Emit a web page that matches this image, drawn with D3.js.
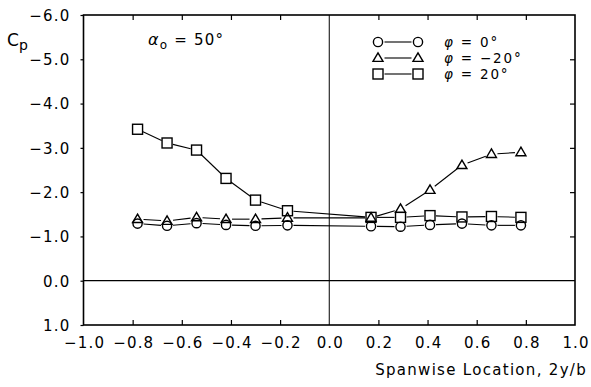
<!DOCTYPE html>
<html>
<head>
<meta charset="utf-8">
<script src="https://cdn.jsdelivr.net/npm/d3@7"></script>
<style>
  body { margin: 0; background: #fff; }
  text { font-family: "DejaVu Sans", sans-serif; fill: #000; }
</style>
</head>
<body>
<svg id="chart" width="591" height="387"></svg>
<script>
// Spanwise stations (2y/b) and pressure coefficient per sideslip angle
const spanStations = [-0.78, -0.66, -0.54, -0.42, -0.30, -0.17, 0.17, 0.29, 0.41, 0.54, 0.66, 0.78];
const cpPhi0      = [-1.29, -1.24, -1.30, -1.26, -1.24, -1.25, -1.23, -1.22, -1.26, -1.29, -1.25, -1.25];
const cpPhiMinus20 = [-1.39, -1.35, -1.43, -1.39, -1.39, -1.42, -1.42, -1.62, -2.05, -2.61, -2.86, -2.90];
const cpPhi20     = [-3.42, -3.11, -2.95, -2.31, -1.82, -1.58, -1.43, -1.43, -1.47, -1.44, -1.45, -1.43];

const seriesNames = ["φ = 0°", "φ = −20°", "φ = 20°"];
const seriesShapes = ["circle", "triangle", "square"];

const xTickValues = [-1.0, -0.8, -0.6, -0.4, -0.2, 0.0, 0.2, 0.4, 0.6, 0.8, 1.0];
const yTickValues = [-6.0, -5.0, -4.0, -3.0, -2.0, -1.0, 0.0, 1.0];

const svg = d3.select("#chart");
const plotLeft = 83.5, plotRight = 575, plotTop = 15, plotBottom = 325;
const labelFont = "15px", labelSpacing = "1.2px";

const x = d3.scaleLinear().domain([-1, 1]).range([plotLeft, plotRight]);
const y = d3.scaleLinear().domain([-6, 1]).range([plotTop, plotBottom]);
const fmt = d3.format(".1f");

// Axes
const gLeft = svg.append("g").attr("transform", `translate(${plotLeft},0)`)
  .call(d3.axisLeft(y).tickValues(yTickValues).tickSize(3).tickPadding(10).tickFormat(fmt));
const gBottom = svg.append("g").attr("transform", `translate(0,${plotBottom})`)
  .call(d3.axisBottom(x).tickValues(xTickValues).tickSize(-5).tickPadding(12).tickFormat(fmt));
const gTop = svg.append("g").attr("transform", `translate(0,${plotTop})`)
  .call(d3.axisTop(x).tickValues(xTickValues.filter(v => v !== 0 && Math.abs(v) !== 1)).tickSize(-5).tickFormat(""));
const gRight = svg.append("g").attr("transform", `translate(${plotRight},0)`)
  .call(d3.axisRight(y).tickValues(yTickValues.filter(v => v > -6 && v < 0)).tickSize(-5).tickFormat(""));
gBottom.selectAll(".tick line").filter(d => d === 0 || Math.abs(d) === 1).remove();

[gLeft, gBottom, gTop, gRight].forEach(g => {
  g.select(".domain").remove();
  g.selectAll(".tick line").attr("stroke", "#000").attr("stroke-width", 1.2);
  g.selectAll(".tick text").style("font-size", labelFont)
    .style("letter-spacing", labelSpacing).attr("fill", "#000");
});
gLeft.selectAll(".tick text").attr("dy", "0.36em");
gBottom.selectAll(".tick text").attr("dx", "0.6px");

// Frame
svg.append("rect")
  .attr("x", plotLeft).attr("y", plotTop)
  .attr("width", plotRight - plotLeft).attr("height", plotBottom - plotTop)
  .attr("fill", "none").attr("stroke", "#000").attr("stroke-width", 1.6);

// Reference lines at Cp = 0 and 2y/b = 0
svg.append("line").attr("x1", plotLeft).attr("x2", plotRight).attr("y1", y(0)).attr("y2", y(0))
  .attr("stroke", "#000").attr("stroke-width", 1.3);
svg.append("line").attr("x1", x(0)).attr("x2", x(0)).attr("y1", plotTop).attr("y2", plotBottom)
  .attr("stroke", "#000").attr("stroke-width", 1);

// Marker shapes
function drawMarker(g, shape, cx, cy) {
  if (shape === "circle") {
    g.append("circle").attr("cx", cx).attr("cy", cy).attr("r", 4.6);
  } else if (shape === "square") {
    g.append("rect").attr("x", cx - 5).attr("y", cy - 5).attr("width", 10).attr("height", 10);
  } else {
    const h = 8.5, w = 10;
    g.append("path").attr("d",
      `M${cx},${cy - h * 0.6}L${cx + w / 2},${cy + h * 0.4}L${cx - w / 2},${cy + h * 0.4}Z`);
  }
}

// Connecting segment shortened so it stops at the marker outlines
function trimmedSegment(g, x1, y1, x2, y2, gap) {
  const dx = x2 - x1, dy = y2 - y1, len = Math.hypot(dx, dy);
  if (len <= 2 * gap) return;
  const ux = dx / len, uy = dy / len;
  g.append("line")
    .attr("x1", x1 + ux * gap).attr("y1", y1 + uy * gap)
    .attr("x2", x2 - ux * gap).attr("y2", y2 - uy * gap);
}

const allSeries = [cpPhi0, cpPhiMinus20, cpPhi20];
allSeries.forEach((vals, si) => {
  const g = svg.append("g").attr("fill", "none").attr("stroke", "#000");
  const lines = g.append("g").attr("stroke-width", 1.1);
  const pts = spanStations.map((s, i) => [x(s), y(vals[i])]);
  for (let i = 0; i < pts.length - 1; i++) {
    trimmedSegment(lines, pts[i][0], pts[i][1], pts[i + 1][0], pts[i + 1][1], 6);
  }
  const marks = g.append("g").attr("stroke-width", 1.4);
  pts.forEach(p => drawMarker(marks, seriesShapes[si], p[0], p[1]));
});

// Legend
const legend = svg.append("g");
seriesNames.forEach((name, i) => {
  const cy = 42 + i * 16;
  const g = legend.append("g").attr("fill", "none").attr("stroke", "#000");
  trimmedSegment(g.append("g").attr("stroke-width", 1.1), 378, cy, 418, cy, 6.5);
  const m = g.append("g").attr("stroke-width", 1.4);
  drawMarker(m, seriesShapes[i], 378, cy);
  drawMarker(m, seriesShapes[i], 418, cy);
  const t = legend.append("text").attr("x", 444).attr("y", cy).attr("dy", "0.36em")
    .style("font-size", "13.5px").style("letter-spacing", "1.8px");
  t.append("tspan").style("font-style", "italic").text(name.slice(0, 1));
  t.append("tspan").text(name.slice(1));
});

// Angle of attack annotation
const alpha = svg.append("text").attr("x", 148).attr("y", 45)
  .style("font-size", labelFont).style("letter-spacing", labelSpacing);
alpha.append("tspan").style("font-style", "italic").style("font-size", "16px").text("α");
alpha.append("tspan").attr("dy", 4).style("font-size", "12px").text("o");
alpha.append("tspan").attr("dy", -4).text(" = 50°");

// Axis titles
const cp = svg.append("text").attr("x", 7).attr("y", 46).style("font-size", "17px");
cp.append("tspan").text("C");
cp.append("tspan").attr("dy", 4).style("font-size", "14px").text("p");

svg.append("text").attr("x", 587).attr("y", 375).attr("text-anchor", "end")
  .style("font-size", labelFont).style("letter-spacing", "1.3px").text("Spanwise Location, 2y/b");
</script>
</body>
</html>
